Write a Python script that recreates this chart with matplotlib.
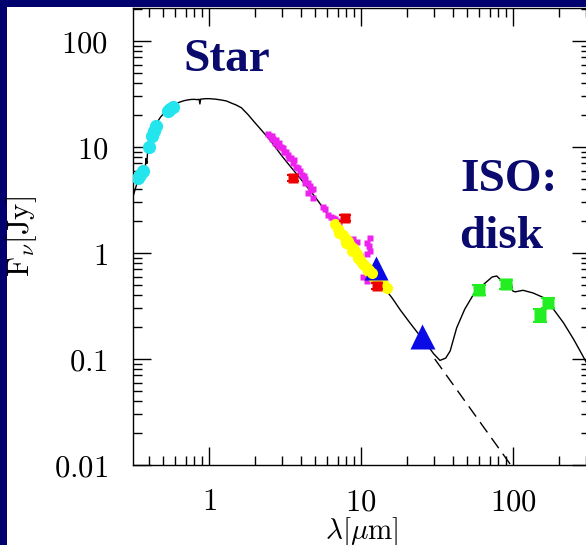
import matplotlib
matplotlib.use("Agg")
import matplotlib.pyplot as plt
from matplotlib.patches import Rectangle
from matplotlib.ticker import LogLocator, FixedLocator, FixedFormatter, NullFormatter

plt.rcParams["mathtext.fontset"] = "cm"

# Model SED: stellar photosphere plus far-IR disk emission
model_wave = [0.316, 0.325, 0.335, 0.345, 0.355, 0.362, 0.370, 0.378, 0.385, 0.39,
              0.395, 0.40, 0.41, 0.42, 0.44, 0.46, 0.48, 0.50, 0.53, 0.56, 0.60,
              0.64, 0.68, 0.72, 0.76, 0.80, 0.83, 0.86, 0.87, 0.88, 0.95, 1.0, 1.1,
              1.2, 1.3, 1.4, 1.5, 1.63, 1.8, 2.0, 2.5, 3.0, 3.3, 4.0, 5.0, 6.0, 8.0,
              10, 12, 14, 16, 18.1, 21, 25, 28, 30, 33, 36, 38.5, 42.5, 48, 55, 64,
              72.7, 78, 84, 93, 97, 99, 103, 116, 135, 158, 184, 214, 250, 283, 320]
model_flux = [3.4, 3.9, 4.5, 4.9, 5.4, 5.6, 6.3, 5.8, 7.8, 7.0,
              9.5, 10.5, 12.0, 13.0, 15.5, 17.5, 19.2, 20.5, 22.3, 24.0, 25.5,
              26.5, 27.3, 27.8, 28.1, 28.2, 28.0, 28.2, 25.5, 28.3, 28.6, 28.6, 28.3,
              27.8, 27.2, 26.0, 25.0, 23.5, 20.3, 17.0, 11.8, 8.3, 7.0, 5.0, 3.36, 2.34, 1.37,
              0.90, 0.643, 0.48, 0.376, 0.29, 0.218, 0.158, 0.128, 0.112, 0.097, 0.102, 0.119, 0.197, 0.295, 0.41, 0.507,
              0.594, 0.607, 0.545, 0.525, 0.53, 0.44, 0.43, 0.445, 0.42, 0.38, 0.295, 0.22, 0.153, 0.111, 0.08]

# Rayleigh-Jeans tail of the bare photosphere
photo_wave = [30.5, 100.0]
photo_flux = [0.100, 0.0093]

# Optical photometry
cyan_wave = [0.341, 0.352, 0.368, 0.401, 0.422, 0.435, 0.45, 0.537, 0.555, 0.579]
cyan_flux = [5.1, 5.4, 5.9, 10.0, 12.7, 14.2, 15.8, 21.9, 23.0, 23.9]

# Near/mid-IR spectroscopy
magenta_wave = [2.45, 2.52, 2.58, 2.6, 2.65, 2.72, 2.75, 2.86, 2.9, 2.95, 3.07, 3.1,
                3.2, 3.31, 3.35, 3.45, 3.57, 3.62, 3.75, 3.85, 3.97, 4.1, 4.2, 4.28,
                4.28, 4.45, 4.5, 4.62, 4.7, 4.83, 4.86,
                5.63, 5.8, 6.06, 6.3, 6.5, 6.7, 6.9, 7.2,
                8.9, 9.37, 9.85, 10.3, 10.9, 10.9, 11.0, 11.2, 11.4, 11.4, 11.8, 12.3]
magenta_flux = [13.2, 12.7, 12.0, 12.6, 11.8, 10.8, 11.6, 10.2, 10.8, 10.0, 9.8, 9.0,
                9.0, 8.5, 7.8, 7.8, 7.1, 7.6, 6.5, 6.3, 5.9, 5.5, 5.3, 5.0,
                4.6, 4.6, 3.7, 4.3, 3.9, 4.0, 3.3,
                2.7, 2.6, 2.3, 2.2, 2.15, 2.1, 2.0, 1.85,
                1.35, 1.26, 0.94, 0.59, 0.97, 0.55, 1.25, 1.16, 1.05, 1.4, 0.61, 0.60]

# ISO-SWS spectrum (main trace and a second, slightly offset pass)
yellow_wave = [6.74, 7.0, 7.3, 7.6, 7.84, 8.15, 8.48, 8.8, 9.12, 9.35, 9.6, 9.85,
               10.1, 10.5, 10.9, 11.3, 11.8, 12.2, 12.7, 13.2, 13.7, 14.2, 14.7]
yellow_flux = [1.87, 1.70, 1.55, 1.47, 1.40, 1.30, 1.20, 1.12, 1.05, 0.98, 0.91, 0.86,
               0.81, 0.77, 0.73, 0.69, 0.65, 0.62, 0.59, 0.555, 0.52, 0.495, 0.47]
yellow2_wave = [7.1, 7.9, 8.7, 9.5, 10.3, 11.1, 11.9, 12.9, 13.9]
yellow2_flux = [1.55, 1.25, 1.05, 0.90, 0.78, 0.68, 0.60, 0.54, 0.49]

# Ground-based IR photometry
red_wave = [3.57, 7.85, 12.7]
red_flux = [5.15, 2.13, 0.49]
red_err = [0.35, 0.14, 0.035]

# IRAS
blue_wave = [12.6, 25.0]
blue_flux = [0.72, 0.165]

# ISO far-IR photometry
green_wave = [60, 90, 150, 170]
green_flux = [0.45, 0.51, 0.26, 0.34]
green_err = [0.05, 0.05, 0.037, 0.037]

x_ticks = [1, 10, 100]
x_labels = ["1", "10", "100"]
y_ticks = [0.01, 0.1, 1, 10, 100]
y_labels = ["0.01", "0.1", "1", "10", "100"]

W, H = 586, 545
fig = plt.figure(figsize=(W / 100, H / 100), dpi=100)
fig.patch.set_facecolor("#00006e")
fig.patches.append(Rectangle((7 / W, 0), 1, 1 - 7 / H, transform=fig.transFigure,
                             facecolor="white", edgecolor="none", zorder=-10))

ax = fig.add_axes([133 / W, 80 / H, 457 / W, 457 / H])
ax.set_xscale("log")
ax.set_yscale("log")
ax.set_xlim(0.316, 320)
ax.set_ylim(0.01, 205)

ax.plot(model_wave, model_flux, color="black", lw=1.0, zorder=3)
ax.plot(photo_wave, photo_flux, color="black", lw=1.0, dashes=(9, 5), zorder=3)

ax.plot(magenta_wave, magenta_flux, "s", color="#ee22ee", ms=4, mec="none", zorder=5)
ax.plot(yellow2_wave, yellow2_flux, "o", color="#ffff00", ms=8, mec="none", zorder=5.5)
ax.plot(yellow_wave, yellow_flux, "o", color="#ffff00", ms=8, mec="none", zorder=5.6)
ax.plot(blue_wave[:1], blue_flux[:1], "^", color="#0a0ae6", ms=17, mec="none", zorder=5.8)
# the part of the SWS trace that crosses the 12 micron point stays on top
ax.plot(yellow_wave[14:17], yellow_flux[14:17], "o", color="#ffff00", ms=8, mec="none", zorder=6)
ax.errorbar(red_wave, red_flux, yerr=red_err, fmt="s", color="#ee0000", ms=7.5,
            mec="none", capsize=4, elinewidth=1.5, capthick=1.5, zorder=7)
ax.plot(blue_wave[1:], blue_flux[1:], "^", color="#0a0ae6", ms=18, mec="none", zorder=7)
ax.plot(cyan_wave, cyan_flux, "o", color="#22e5ee", ms=9.5, mec="none", zorder=5)
ax.errorbar(green_wave, green_flux, yerr=green_err, fmt="s", color="#22ee22", ms=8.6,
            mec="none", capsize=4.7, elinewidth=1.5, capthick=1.5, zorder=5)

ax.xaxis.set_major_locator(FixedLocator(x_ticks))
ax.xaxis.set_major_formatter(FixedFormatter([r"$\mathrm{%s}$" % s for s in x_labels]))
ax.yaxis.set_major_locator(FixedLocator(y_ticks))
ax.yaxis.set_major_formatter(FixedFormatter([r"$\mathrm{%s}$" % s for s in y_labels]))
for axis in (ax.xaxis, ax.yaxis):
    axis.set_minor_locator(LogLocator(base=10, subs=range(2, 10), numticks=20))
    axis.set_minor_formatter(NullFormatter())

ax.tick_params(which="both", direction="in", top=True, right=True, width=1.0,
               color="black", labelsize=22)
ax.tick_params(which="major", length=13)
ax.tick_params(which="minor", length=6.5)
ax.tick_params(axis="x", which="major", pad=16)
ax.tick_params(axis="y", which="major", pad=18)
for sp in ax.spines.values():
    sp.set_linewidth(1.0)

ax.set_xlabel(r"$\lambda[\mu\mathrm{m}]$", fontsize=21)
ax.set_ylabel(r"$\mathrm{F}_\nu[\mathrm{Jy}]$", fontsize=22)
ax.xaxis.set_label_coords(0.5, -0.11)
ax.yaxis.set_label_coords(-0.205, 0.5)

txt = dict(color="#0a0a6e", fontsize=34, fontweight="bold", family="Liberation Serif",
           transform=fig.transFigure)
fig.text(183 / W, 1 - 71 / H, "Star", va="baseline", **txt)
fig.text(460 / W, 1 - 191 / H, "ISO:", va="baseline", **txt)
fig.text(459 / W, 1 - 248 / H, "disk", va="baseline", **txt)

fig.savefig("out.png", dpi=100, facecolor=fig.get_facecolor())
